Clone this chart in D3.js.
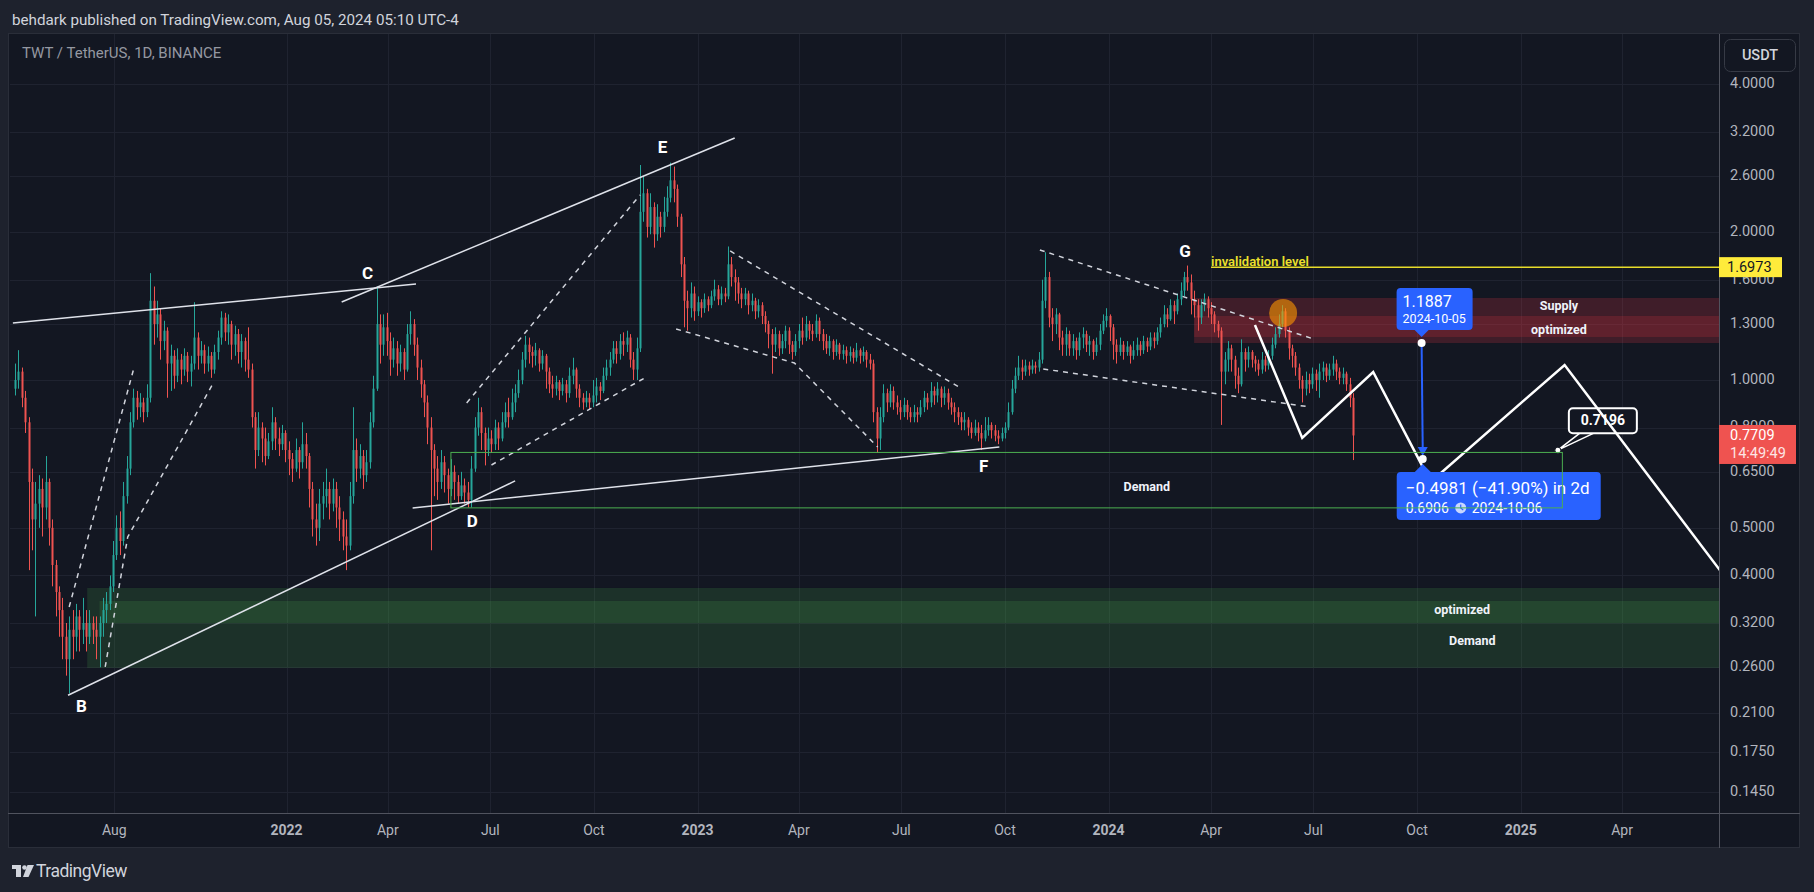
<!DOCTYPE html>
<html><head><meta charset="utf-8">
<script src="https://cdn.jsdelivr.net/npm/d3@7"></script>
<style>
html,body{margin:0;padding:0;background:#1e222d;}
svg{display:block;font-family:Roboto,"Noto Sans","DejaVu Sans",sans-serif;}
</style></head>
<body><svg id="c" width="1814" height="892"></svg>
<script>
// ---------------- DATA ----------------
const symbolTitle = "TWT / TetherUS, 1D, BINANCE";
const publishLine = "behdark published on TradingView.com, Aug 05, 2024 05:10 UTC-4";
const candleStart = "2021-05-05";   // 3-day candles
const candleStepDays = 3;
const firstOpen = 0.96;
const closes = [
1.00,1.04,0.92,0.82,0.62,0.52,0.56,0.60,0.55,0.62,
0.50,0.42,0.37,0.34,0.30,0.27,0.31,0.30,0.33,0.31,
0.32,0.30,0.32,0.31,0.30,0.32,0.34,0.35,0.38,0.44,
0.50,0.47,0.58,0.66,0.82,0.92,0.88,0.90,0.86,0.92,
1.45,1.30,1.36,1.20,1.26,1.08,1.12,1.02,1.10,1.05,
1.12,1.04,1.08,1.22,1.12,1.15,1.08,1.12,1.05,1.14,
1.22,1.34,1.25,1.30,1.18,1.24,1.14,1.20,1.10,1.05,
0.84,0.72,0.80,0.76,0.70,0.75,0.82,0.76,0.74,0.78,
0.72,0.69,0.66,0.72,0.68,0.74,0.70,0.60,0.52,0.50,
0.56,0.58,0.60,0.56,0.60,0.55,0.52,0.48,0.46,0.58,
0.72,0.66,0.70,0.64,0.68,0.82,0.96,1.30,1.18,1.28,
1.20,1.10,1.16,1.08,1.14,1.05,1.24,1.30,1.18,1.06,
0.98,0.90,0.80,0.72,0.66,0.62,0.68,0.64,0.60,0.65,
0.62,0.58,0.61,0.59,0.57,0.66,0.80,0.86,0.78,0.72,
0.76,0.74,0.80,0.76,0.82,0.86,0.84,0.90,0.94,1.00,
1.10,1.18,1.14,1.12,1.15,1.08,1.12,1.04,0.98,0.96,
0.99,0.95,0.98,0.94,1.02,1.05,0.96,0.92,0.90,0.92,
0.90,0.93,0.97,0.95,1.02,1.06,1.10,1.16,1.13,1.20,
1.18,1.22,1.10,1.05,1.16,2.20,2.40,2.05,2.25,1.98,
2.15,2.05,2.20,2.35,2.55,2.45,2.15,1.72,1.45,1.40,
1.50,1.38,1.44,1.40,1.46,1.42,1.48,1.53,1.46,1.50,
1.48,1.72,1.62,1.58,1.50,1.46,1.50,1.42,1.45,1.38,
1.42,1.35,1.30,1.24,1.18,1.24,1.16,1.20,1.26,1.18,
1.14,1.20,1.26,1.22,1.30,1.26,1.24,1.32,1.24,1.20,
1.16,1.20,1.14,1.18,1.13,1.15,1.12,1.14,1.11,1.15,
1.12,1.14,1.10,1.08,0.86,0.76,0.84,0.94,0.90,0.95,
0.90,0.88,0.86,0.89,0.86,0.84,0.86,0.85,0.88,0.92,
0.90,0.95,0.93,0.96,0.92,0.94,0.90,0.88,0.86,0.84,
0.82,0.83,0.80,0.78,0.80,0.78,0.76,0.79,0.81,0.79,
0.77,0.76,0.78,0.80,0.86,0.96,1.02,1.06,1.04,1.07,
1.05,1.07,1.06,1.10,1.45,1.62,1.34,1.30,1.36,1.22,
1.18,1.24,1.16,1.20,1.15,1.22,1.24,1.18,1.20,1.14,
1.18,1.26,1.32,1.35,1.28,1.18,1.14,1.18,1.14,1.17,
1.12,1.15,1.18,1.15,1.20,1.17,1.22,1.20,1.25,1.30,
1.36,1.33,1.42,1.38,1.46,1.52,1.62,1.58,1.46,1.42,
1.34,1.42,1.46,1.40,1.36,1.30,1.26,1.04,1.10,1.16,
1.10,1.02,0.98,1.14,1.10,1.14,1.10,1.08,1.05,1.10,
1.07,1.12,1.18,1.24,1.30,1.38,1.26,1.16,1.12,1.06,
1.00,0.96,1.00,0.98,1.03,1.00,1.04,1.06,1.02,1.05,
1.08,1.04,1.01,1.03,0.98,0.92,0.7709];
const highs = [
1.08,1.15,1.06,0.95,0.84,0.66,0.62,0.64,0.63,0.70,
0.63,0.52,0.43,0.38,0.36,0.32,0.33,0.34,0.35,0.34,
0.36,0.34,0.34,0.33,0.33,0.33,0.36,0.37,0.40,0.47,
0.53,0.54,0.62,0.70,0.86,0.96,0.95,0.94,0.92,0.98,
1.65,1.55,1.45,1.40,1.32,1.28,1.18,1.15,1.16,1.13,
1.16,1.14,1.12,1.44,1.25,1.20,1.18,1.17,1.14,1.18,
1.26,1.38,1.37,1.36,1.32,1.29,1.27,1.24,1.22,1.28,
1.08,0.86,0.86,0.82,0.80,0.78,0.88,0.84,0.80,0.81,
0.79,0.75,0.71,0.76,0.73,0.82,0.78,0.71,0.62,0.56,
0.60,0.62,0.66,0.62,0.63,0.62,0.58,0.54,0.52,0.62,
0.88,0.76,0.74,0.72,0.72,0.86,1.02,1.55,1.36,1.36,
1.37,1.25,1.22,1.20,1.18,1.16,1.30,1.38,1.33,1.22,
1.10,1.00,0.93,0.84,0.74,0.70,0.72,0.70,0.66,0.69,
0.67,0.64,0.65,0.63,0.62,0.70,0.84,0.92,0.88,0.80,
0.80,0.79,0.83,0.82,0.86,0.90,0.92,0.96,0.98,1.05,
1.14,1.23,1.22,1.17,1.19,1.16,1.15,1.13,1.06,1.02,
1.02,1.00,1.01,1.00,1.06,1.11,1.06,0.98,0.94,0.95,
0.94,1.00,1.01,0.99,1.06,1.10,1.14,1.20,1.20,1.24,
1.25,1.26,1.24,1.14,1.22,2.74,2.60,2.45,2.40,2.30,
2.28,2.20,2.36,2.48,2.77,2.72,2.50,2.18,1.78,1.52,
1.58,1.55,1.48,1.46,1.50,1.48,1.52,1.60,1.56,1.55,
1.54,1.87,1.78,1.68,1.62,1.54,1.54,1.52,1.50,1.47,
1.46,1.44,1.38,1.32,1.27,1.28,1.26,1.24,1.29,1.28,
1.20,1.24,1.30,1.34,1.35,1.32,1.30,1.36,1.34,1.27,
1.24,1.23,1.21,1.21,1.19,1.18,1.17,1.17,1.16,1.19,
1.16,1.17,1.15,1.13,1.10,0.88,0.88,0.98,0.96,0.98,
0.97,0.93,0.91,0.92,0.91,0.88,0.89,0.88,0.91,0.95,
0.94,0.99,0.97,0.99,0.97,0.97,0.96,0.92,0.90,0.88,
0.86,0.86,0.84,0.82,0.83,0.82,0.81,0.84,0.84,0.82,
0.81,0.79,0.80,0.82,0.90,1.00,1.06,1.12,1.10,1.10,
1.09,1.10,1.09,1.14,1.60,1.82,1.66,1.40,1.40,1.37,
1.26,1.28,1.26,1.24,1.22,1.25,1.28,1.26,1.23,1.21,
1.22,1.30,1.36,1.40,1.36,1.30,1.21,1.22,1.20,1.20,
1.18,1.20,1.22,1.20,1.23,1.22,1.25,1.25,1.28,1.34,
1.42,1.40,1.46,1.45,1.50,1.58,1.66,1.71,1.64,1.52,
1.46,1.46,1.50,1.48,1.44,1.38,1.32,1.28,1.14,1.20,
1.18,1.12,1.06,1.21,1.16,1.17,1.15,1.12,1.10,1.14,
1.12,1.15,1.22,1.28,1.36,1.42,1.40,1.28,1.18,1.14,
1.08,1.02,1.04,1.03,1.06,1.05,1.08,1.09,1.08,1.08,
1.12,1.10,1.06,1.06,1.04,1.01,0.94];
const lows = [
0.93,0.96,0.88,0.78,0.41,0.45,0.33,0.50,0.48,0.52,
0.46,0.38,0.33,0.30,0.27,0.25,0.23,0.27,0.28,0.28,
0.29,0.28,0.29,0.29,0.27,0.26,0.30,0.32,0.34,0.37,
0.43,0.44,0.46,0.56,0.64,0.80,0.83,0.84,0.82,0.84,
0.90,1.18,1.22,1.10,1.15,0.92,0.95,0.96,0.99,0.98,
1.02,0.99,0.97,1.05,1.05,1.08,1.03,1.04,1.01,1.03,
1.10,1.18,1.20,1.18,1.10,1.12,1.08,1.06,1.04,1.01,
0.80,0.66,0.70,0.68,0.67,0.69,0.72,0.72,0.70,0.72,
0.68,0.64,0.62,0.65,0.63,0.66,0.66,0.55,0.48,0.46,
0.47,0.52,0.55,0.52,0.54,0.50,0.47,0.45,0.41,0.45,
0.56,0.62,0.63,0.60,0.62,0.66,0.80,0.95,1.08,1.12,
1.12,1.02,1.06,1.02,1.04,1.00,1.04,1.18,1.12,1.00,
0.92,0.84,0.74,0.45,0.58,0.57,0.60,0.59,0.56,0.58,
0.57,0.56,0.57,0.56,0.55,0.55,0.65,0.77,0.72,0.67,
0.70,0.71,0.72,0.72,0.75,0.80,0.80,0.83,0.86,0.92,
0.98,1.06,1.08,1.06,1.07,1.04,1.05,0.96,0.94,0.92,
0.93,0.91,0.93,0.90,0.92,0.98,0.92,0.88,0.87,0.88,
0.87,0.88,0.90,0.91,0.94,1.00,1.02,1.08,1.08,1.10,
1.12,1.14,1.06,1.00,1.00,1.14,2.10,1.95,1.98,1.86,
1.92,1.95,2.00,2.15,2.30,2.30,2.05,1.62,1.28,1.26,
1.34,1.32,1.35,1.34,1.37,1.38,1.40,1.45,1.42,1.42,
1.44,1.46,1.55,1.45,1.43,1.40,1.42,1.36,1.38,1.33,
1.34,1.30,1.25,1.16,1.03,1.14,1.12,1.13,1.16,1.13,
1.10,1.12,1.16,1.18,1.20,1.21,1.20,1.22,1.20,1.15,
1.13,1.12,1.10,1.12,1.10,1.10,1.08,1.09,1.08,1.09,
1.08,1.09,1.06,1.05,0.82,0.71,0.72,0.82,0.86,0.88,
0.87,0.85,0.83,0.84,0.83,0.82,0.82,0.82,0.84,0.86,
0.87,0.88,0.89,0.90,0.88,0.89,0.87,0.85,0.82,0.81,
0.79,0.79,0.77,0.76,0.77,0.75,0.72,0.75,0.77,0.76,
0.75,0.74,0.75,0.76,0.79,0.85,0.94,1.00,1.00,1.02,
1.02,1.03,1.03,1.04,1.08,1.40,1.28,1.20,1.24,1.15,
1.12,1.12,1.12,1.12,1.10,1.12,1.16,1.14,1.12,1.10,
1.12,1.15,1.24,1.28,1.20,1.10,1.08,1.12,1.10,1.12,
1.08,1.10,1.12,1.12,1.13,1.14,1.15,1.16,1.18,1.22,
1.28,1.28,1.32,1.30,1.36,1.42,1.48,1.52,1.36,1.34,
1.26,1.30,1.38,1.34,1.30,1.25,1.22,0.81,0.98,1.04,
1.04,0.96,0.94,0.97,1.04,1.06,1.06,1.04,1.02,1.03,
1.04,1.05,1.10,1.16,1.22,1.28,1.22,1.10,1.06,1.02,
0.96,0.90,0.93,0.94,0.96,0.95,0.92,1.00,0.99,1.00,
1.02,1.00,0.98,0.98,0.95,0.88,0.687];

const priceTicks = [4,3.2,2.6,2,1.6,1.3,1,0.8,0.65,0.5,0.4,0.32,0.26,0.21,0.175,0.145];
const timeTicks = [["2021-08-01","Aug"],["2022-01-01","2022"],["2022-04-01","Apr"],["2022-07-01","Jul"],
  ["2022-10-01","Oct"],["2023-01-01","2023"],["2023-04-01","Apr"],["2023-07-01","Jul"],["2023-10-01","Oct"],
  ["2024-01-01","2024"],["2024-04-01","Apr"],["2024-07-01","Jul"],["2024-10-01","Oct"],["2025-01-01","2025"],["2025-04-01","Apr"]];
const timeDomain = ["2021-04-30T11:00:00Z","2025-06-26T02:24:00Z"];
const priceDomain = [0.1313, 5.064];

const solidLines = [
  [["2021-06-21",0.228],["2022-07-23",0.623]],
  [["2021-05-03",1.306],["2022-04-26",1.568]],
  [["2022-02-19",1.4415],["2023-02-03",3.11]],
  [["2022-04-23",0.5488],["2023-09-26",0.7304]]
];
const dashedLines = [
  [["2021-06-22",0.345],["2021-08-19",1.068]],
  [["2021-07-24",0.2604],["2021-08-13",0.479],["2021-10-28",0.986]],
  [["2022-06-10",0.898],["2022-11-11",2.381]],
  [["2022-07-02",0.6713],["2022-11-15",1.0094]],
  [["2023-01-30",1.831],["2023-08-21",0.9677]],
  [["2022-12-13",1.270],["2023-03-28",1.083],["2023-06-10",0.7304]],
  [["2023-11-01",1.8396],["2024-07-01",1.212]],
  [["2023-11-04",1.053],["2024-06-28",0.881]]
];
const projection = [["2024-05-10",1.294],["2024-06-21",0.762],["2024-08-23",1.038],["2024-10-13",0.620],["2025-02-09",1.073],["2025-08-19",0.283]];
const waveLabels = [["B","2021-07-03",0.2149],["C","2022-03-14",1.636],["D","2022-06-15",0.5115],
  ["E","2022-12-01",2.967],["F","2023-09-12",0.662],["G","2024-03-09",1.822]];
const supplyOuter = {from:"2024-03-17", lo:1.189, hi:1.469};
const supplyInner = {from:"2024-03-17", lo:1.2234, hi:1.350};
const lowDemandOuter = {from:"2021-07-08", lo:0.2592, hi:0.3771};
const lowDemandInner = {from:"2021-07-19", lo:0.3201, hi:0.3548};
const demandBox = {from:"2022-05-27", to:"2025-02-07", lo:0.549, hi:0.712};
const zoneTexts = [["Supply","2025-02-04",1.408],["optimized","2025-02-04",1.258],["Demand","2024-02-04",0.6027],
  ["optimized","2024-11-10",0.3386],["Demand","2024-11-19",0.2928]];
const invalidation = {from:"2024-04-01", price:1.6973, text:"invalidation level"};
const circleMark = ["2024-06-04",1.369];
const measureFrom = {date:"2024-10-05", price:1.1887};
const measureTo = {date:"2024-10-06", price:0.6906, change:"\u22120.4981 (\u221241.90%) in 2d"};
const callout = {date:"2025-02-03", price:0.7196, text:"0.7196"};
const lastPrice = 0.7709, countdown = "14:49:49";

// ---------------- SETUP ----------------
const svg = d3.select("#c");
const P = {l:10, r:1719, t:34, b:813};
const parse = d3.utcParse("%Y-%m-%d");
const x = d3.scaleUtc().domain(timeDomain.map(s=>new Date(s))).range([P.l, P.r]);
const y = d3.scaleLog().domain(priceDomain).range([P.b, P.t]);
const X = s => x(parse(s));
const fmt = d3.format(".4f");

svg.append("rect").attr("width",1814).attr("height",892).attr("fill","#1e222d");
svg.append("rect").attr("x",8.5).attr("y",33.5).attr("width",1791).attr("height",814)
  .attr("fill","#131722").attr("stroke","#2a2e39");

const defs = svg.append("defs");
defs.append("clipPath").attr("id","plot").append("rect")
  .attr("x",P.l).attr("y",P.t).attr("width",P.r-P.l).attr("height",P.b-P.t);

// grid
const grid = svg.append("g").attr("stroke","#1f2330").attr("stroke-width",1);
priceTicks.forEach(p=>{const yy=Math.round(y(p))+0.5;
  grid.append("line").attr("x1",P.l).attr("x2",P.r).attr("y1",yy).attr("y2",yy);});
timeTicks.forEach(t=>{const xx=Math.round(X(t[0]))+0.5;
  grid.append("line").attr("x1",xx).attr("x2",xx).attr("y1",P.t).attr("y2",P.b);});

const plot = svg.append("g").attr("clip-path","url(#plot)");

// zones
function zone(z, fill){
  plot.append("rect").attr("x",X(z.from)).attr("width",P.r - X(z.from))
    .attr("y",y(z.hi)).attr("height",y(z.lo)-y(z.hi)).attr("fill",fill);
}
zone(lowDemandOuter,"rgba(76,175,80,0.17)");
zone(lowDemandInner,"rgba(76,175,80,0.17)");
zone(supplyOuter,"rgba(242,54,69,0.2)");
zone(supplyInner,"rgba(242,54,69,0.18)");

// candles
const start = parse(candleStart);
const candles = closes.map((c,i)=>({t:d3.utcDay.offset(start,i*candleStepDays),
  o: i? closes[i-1] : firstOpen, h:highs[i], l:lows[i], c}));
const cg = plot.append("g");
candles.forEach(d=>{
  const cx = Math.round(x(d.t));
  const col = d.c>=d.o ? "#26a69a" : "#ef5350";
  const top = Math.max(d.h,d.o,d.c), bot = Math.min(d.l,d.o,d.c);
  cg.append("line").attr("x1",cx+0.5).attr("x2",cx+0.5).attr("y1",y(top)).attr("y2",y(bot))
    .attr("stroke",col).attr("stroke-width",1);
  const y1 = y(Math.max(d.o,d.c)), y2 = y(Math.min(d.o,d.c));
  cg.append("rect").attr("x",cx-0.5).attr("width",2).attr("y",y1).attr("height",Math.max(1,y2-y1)).attr("fill",col);
});

const line = d3.line().x(d=>X(d[0])).y(d=>y(d[1]));
solidLines.forEach(l=>plot.append("path").attr("d",line(l)).attr("fill","none")
  .attr("stroke","#dfe2ea").attr("stroke-width",1.5));
dashedLines.forEach(l=>plot.append("path").attr("d",line(l)).attr("fill","none")
  .attr("stroke","#d1d4dc").attr("stroke-width",1.5).attr("stroke-dasharray","5 5"));

// invalidation
const yi = y(invalidation.price);
plot.append("line").attr("x1",X(invalidation.from)).attr("x2",P.r).attr("y1",yi).attr("y2",yi)
  .attr("stroke","#e8dc2a").attr("stroke-width",1.5);
plot.append("text").attr("x",X(invalidation.from)).attr("y",yi-1).attr("fill","#ece02c")
  .attr("font-size",13).attr("font-weight",600).text(invalidation.text);

// orange circle
plot.append("circle").attr("cx",X(circleMark[0])).attr("cy",y(circleMark[1])).attr("r",14)
  .attr("fill","rgba(255,152,0,0.6)");

zoneTexts.forEach(t=>plot.append("text").attr("x",X(t[1])).attr("y",y(t[2])).attr("text-anchor","middle")
  .attr("dominant-baseline","middle").attr("fill","#f0f3fa").attr("font-size",12.5).attr("font-weight",700).text(t[0]));

waveLabels.forEach(w=>plot.append("text").attr("x",X(w[1])).attr("y",y(w[2])).attr("text-anchor","middle")
  .attr("dominant-baseline","middle").attr("fill","#ffffff").attr("font-size",17).attr("font-weight",700).text(w[0]));

// callout 0.7196
const cx0 = X(callout.date), cy0 = y(callout.price);
const bx = cx0+11, by = cy0-42;
plot.append("path").attr("d",`M${bx+11},${by+25} L${cx0},${cy0} L${bx+25},${by+25}`)
  .attr("fill","#131722").attr("stroke","#ffffff").attr("stroke-width",1.5);
plot.append("rect").attr("x",bx).attr("y",by).attr("width",68).attr("height",25).attr("rx",4)
  .attr("fill","#131722").attr("stroke","#ffffff").attr("stroke-width",2);
plot.append("text").attr("x",bx+34).attr("y",by+13).attr("text-anchor","middle").attr("dominant-baseline","middle")
  .attr("fill","#fff").attr("font-size",14).attr("font-weight",700).text(callout.text);
plot.append("circle").attr("cx",cx0).attr("cy",cy0).attr("r",3).attr("fill","#fff").attr("stroke","#131722");

// projection zigzag
plot.append("path").attr("d",line(projection)).attr("fill","none").attr("stroke","#ffffff")
  .attr("stroke-width",2.5).attr("stroke-linejoin","miter");

// measurement (blue)
const blue = "#2962ff";
const mx1 = X(measureFrom.date), my1 = y(measureFrom.price);
const mx2 = X(measureTo.date), my2 = y(measureTo.price);
plot.append("line").attr("x1",mx1).attr("y1",my1).attr("x2",mx2).attr("y2",my2-10)
  .attr("stroke",blue).attr("stroke-width",2);
plot.append("path").attr("d",`M${mx2-5},${my2-12} L${mx2+5},${my2-12} L${mx2},${my2-3} Z`).attr("fill",blue);
const tb = {x:mx1-25, y:my1-55, w:76, h:42};
plot.append("rect").attr("x",tb.x).attr("y",tb.y).attr("width",tb.w).attr("height",tb.h).attr("rx",4).attr("fill",blue);
plot.append("path").attr("d",`M${mx1-7},${tb.y+tb.h} L${mx1+7},${tb.y+tb.h} L${mx1},${tb.y+tb.h+7} Z`).attr("fill",blue);
plot.append("text").attr("x",tb.x+6).attr("y",tb.y+19).attr("fill","#fff").attr("font-size",16).text(fmt(measureFrom.price));
plot.append("text").attr("x",tb.x+6).attr("y",tb.y+35).attr("fill","#fff").attr("font-size",12.5).text(measureFrom.date);
plot.append("circle").attr("cx",mx1).attr("cy",my1).attr("r",4).attr("fill","#fff");
plot.append("circle").attr("cx",mx2).attr("cy",my2).attr("r",4).attr("fill","#fff");
const bb = {x:mx2-26, y:my2+13, w:204, h:48};
plot.append("path").attr("d",`M${mx2-8},${bb.y} L${mx2+8},${bb.y} L${mx2},${bb.y-8} Z`).attr("fill",blue);
plot.append("rect").attr("x",bb.x).attr("y",bb.y).attr("width",bb.w).attr("height",bb.h).attr("rx",4).attr("fill",blue);
plot.append("text").attr("x",bb.x+9).attr("y",bb.y+22).attr("fill","#fff").attr("font-size",17).text(measureTo.change);
plot.append("text").attr("x",bb.x+9).attr("y",bb.y+41).attr("fill","#fff").attr("font-size",14).text(fmt(measureTo.price));
const clk = {x:bb.x+64, y:bb.y+36};
plot.append("circle").attr("cx",clk.x).attr("cy",clk.y).attr("r",5.5).attr("fill","rgba(255,255,255,0.75)");
plot.append("path").attr("d",`M${clk.x},${clk.y-3.5} L${clk.x},${clk.y} L${clk.x+2.5},${clk.y+2}`)
  .attr("stroke",blue).attr("stroke-width",1.2).attr("fill","none");
plot.append("text").attr("x",bb.x+75).attr("y",bb.y+41).attr("fill","#fff").attr("font-size",14).text(measureTo.date);

// demand box outline
plot.append("rect").attr("x",X(demandBox.from)).attr("width",X(demandBox.to)-X(demandBox.from))
  .attr("y",y(demandBox.hi)).attr("height",y(demandBox.lo)-y(demandBox.hi))
  .attr("fill","none").attr("stroke","#4caf50").attr("stroke-width",1);

// ---------------- AXES ----------------
svg.append("line").attr("x1",8).attr("x2",1800).attr("y1",P.b+0.5).attr("y2",P.b+0.5).attr("stroke","#50535e");
svg.append("line").attr("x1",P.r+0.5).attr("x2",P.r+0.5).attr("y1",34).attr("y2",848).attr("stroke","#50535e");

const pa = svg.append("g").attr("font-size",14.5).attr("fill","#b2b5be");
priceTicks.forEach(p=>pa.append("text").attr("x",1730).attr("y",y(p)).attr("dominant-baseline","middle").text(fmt(p)));

const ta = svg.append("g").attr("font-size",14).attr("fill","#b2b5be").attr("text-anchor","middle");
timeTicks.forEach(t=>ta.append("text").attr("x",X(t[0])).attr("y",831).attr("dominant-baseline","middle")
  .attr("font-weight",/^\d{4}$/.test(t[1])?700:400).text(t[1]));

// price tags
svg.append("rect").attr("x",P.r).attr("y",yi-10).attr("width",63).attr("height",20).attr("fill","#ffeb3b");
svg.append("text").attr("x",P.r+8).attr("y",yi+1).attr("dominant-baseline","middle").attr("fill","#131722")
  .attr("font-size",14.5).text(fmt(invalidation.price));
const yl = y(lastPrice);
svg.append("rect").attr("x",P.r).attr("y",yl-10.5).attr("width",77).attr("height",39).attr("fill","#ef5350");
svg.append("text").attr("x",P.r+11).attr("y",yl+1).attr("dominant-baseline","middle").attr("fill","#fff")
  .attr("font-size",14.5).text(fmt(lastPrice));
svg.append("text").attr("x",P.r+11).attr("y",yl+19).attr("dominant-baseline","middle").attr("fill","#fde5e5")
  .attr("font-size",14.5).text(countdown);

// USDT button
svg.append("rect").attr("x",1724.5).attr("y",39.5).attr("width",71).attr("height",32).attr("rx",6)
  .attr("fill","#131722").attr("stroke","#363a45");
svg.append("text").attr("x",1760).attr("y",56).attr("text-anchor","middle").attr("dominant-baseline","middle")
  .attr("fill","#d1d4dc").attr("font-size",14.5).attr("font-weight",500).text("USDT");

// titles
svg.append("text").attr("x",12).attr("y",25).attr("fill","#d1d4dc").attr("font-size",15.2).text(publishLine);
svg.append("text").attr("x",22).attr("y",58).attr("fill","#9598a1").attr("font-size",15).text(symbolTitle);

// logo
const lg = svg.append("g").attr("fill","#d1d4dc");
lg.append("rect").attr("x",12).attr("y",865).attr("width",9).attr("height",4);
lg.append("rect").attr("x",16).attr("y",865).attr("width",5).attr("height",12);
lg.append("circle").attr("cx",24.5).attr("cy",867.5).attr("r",2.3);
lg.append("path").attr("d","M27.5,865 L34,865 L28.5,877 L23,877 Z");
svg.append("text").attr("x",36).attr("y",877).attr("fill","#d1d4dc").attr("font-size",17.5).attr("letter-spacing",-0.5).text("TradingView");
</script></body></html>
